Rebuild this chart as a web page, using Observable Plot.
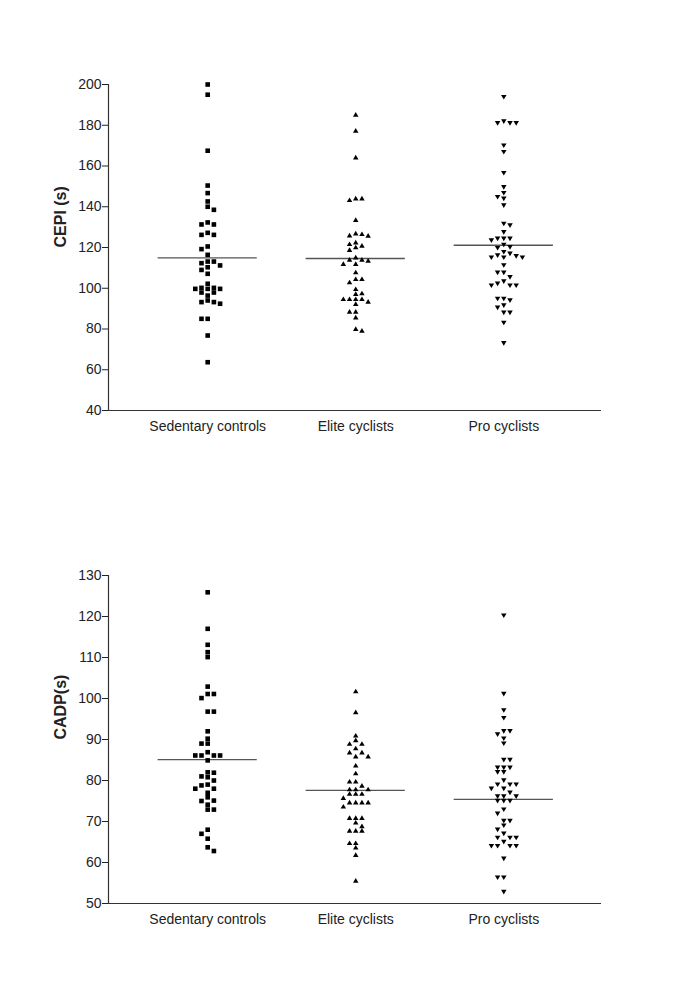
<!DOCTYPE html>
<html>
<head>
<meta charset="utf-8">
<script src="https://cdn.jsdelivr.net/npm/d3@7"></script>
<script src="https://cdn.jsdelivr.net/npm/@observablehq/plot@0.6"></script>
<style>
  html, body { margin: 0; padding: 0; background: #fff; }
  #chart svg { display: block; }
</style>
</head>
<body>
<div id="chart"></div>
<script>
// ---- data ----
const groups = ["Sedentary controls", "Elite cyclists", "Pro cyclists"];

const cepiSedentary = [200, 195, 167.5, 150.4, 146.7, 142.6, 140, 138.5, 132.3, 131.3, 131.3, 127.2, 126.2, 126.2,
  120.5, 119.2, 116.4, 113.1, 113.1, 112.3, 110.3, 111.2, 109, 107.1, 102.2, 99.7, 100.2, 97.9, 99.7, 99.7, 100.2,
  97.9, 96.4, 94, 93.2, 92.4, 93.2, 85, 85, 76.8, 63.7];
const cepiElite = [185.3, 177.4, 164.3, 144.2, 143.4, 144.2, 133.6, 127, 125.9, 126.7, 126, 122.6, 121.8, 121, 120.2,
  118.9, 115.2, 114.1, 114.1, 113.6, 112, 112, 107.9, 104.6, 104.6, 103, 99.7, 97.6, 97.3, 94.8, 94.8, 94.8, 94.8,
  93.5, 92.4, 88.6, 88.6, 85.8, 79.3, 80.1];
const cepiPro = [193.8, 181.8, 181, 181, 181, 170, 166.8, 156.5, 149.6, 146.7, 144.7, 143.9, 140.6, 131.6, 130.8,
  127.5, 124.3, 124.3, 123.4, 124.3, 121.3, 119.7, 120.1, 117.7, 116.9, 116.1, 115.7, 115, 115, 115, 111.2, 107.6,
  107.6, 105.4, 103.3, 102.2, 101.3, 101.3, 101.3, 94.8, 94.8, 94, 91.5, 90.4, 88, 88, 83, 73];
const cepiMeans = [114.9, 114.6, 121.1];
const cepiTicks = [40, 60, 80, 100, 120, 140, 160, 180, 200];

const cadpSedentary = [125.9, 117, 113.1, 111.3, 110.1, 102.9, 101.1, 101.1, 100.1, 96.8, 96.8, 92, 90.2, 89, 89,
  86.9, 86.1, 86.1, 86.1, 86.1, 84.9, 82, 81, 80, 80.8, 81.9, 79, 78.8, 78, 78, 77, 75.9, 75, 75.1, 74.1, 72.9, 72.9,
  67, 68, 65.8, 62.8, 63.7];
const cadpElite = [101.8, 96.7, 91, 89.9, 89, 89, 87.9, 86.9, 86.9, 85.9, 85.9, 83.7, 81.8, 79.8, 79.8, 78.8, 77.9,
  77.9, 77.9, 76.8, 76.8, 76.8, 75.8, 74.7, 74.7, 74.7, 74.7, 73.7, 70.9, 70.9, 70.9, 69.8, 68.9, 67.8, 67.8, 67.8,
  64.8, 64.8, 63.7, 61.9, 55.6];
const cadpPro = [120.2, 101.1, 97.1, 95.2, 92, 92, 91.2, 90.2, 89, 85, 85, 83.1, 83.1, 83.1, 82, 82, 80, 79, 79, 79,
  78, 78, 77, 76.1, 76.1, 76.1, 75, 75, 75, 72.9, 71.9, 70.1, 70.1, 69, 68, 67, 66, 66, 66, 65, 64, 64, 64, 64, 60.9,
  56.3, 56.3, 52.8];
const cadpMeans = [85.1, 77.6, 75.4];
const cadpTicks = [50, 60, 70, 80, 90, 100, 110, 120, 130];

// ---- symbols ----
const triUp = {
  draw(ctx, size) {
    const s = Math.sqrt(size);
    ctx.moveTo(0, -s * 0.55); ctx.lineTo(s * 0.62, s * 0.5); ctx.lineTo(-s * 0.62, s * 0.5); ctx.closePath();
  }
};
const triDown = {
  draw(ctx, size) {
    const s = Math.sqrt(size);
    ctx.moveTo(0, s * 0.55); ctx.lineTo(s * 0.62, -s * 0.5); ctx.lineTo(-s * 0.62, -s * 0.5); ctx.closePath();
  }
};
const symbols = ["square", triUp, triDown];

// ---- layout constants ----
const W = 685, ML = 108, MR = 84, MB = 30;
const XDOM = [-0.67, 2.66];
const STEP = (W - ML - MR) / (XDOM[1] - XDOM[0]); // px per group unit
const COLPX = 6.2;   // horizontal spacing of swarm columns, px
const DMIN = 4.5;    // min vertical spacing in a column, px

// simple column swarm computed from the values
function swarm(values, ppu) {
  const order = values.map((v, i) => ({v, i})).sort((a, b) => b.v - a.v);
  const placed = [];
  const count = new Map();
  const free = (k, v) => !placed.some(q => q.col === k && Math.abs(q.v - v) * ppu < DMIN);
  for (const p of order) {
    let col = null;
    for (let k = 0; col === null && k < 20; k++) {
      if (k === 0) { if (free(0, p.v)) col = 0; continue; }
      const fp = free(k, p.v), fm = free(-k, p.v);
      if (fp && fm) {
        let pos = 0, neg = 0;
        for (const q of placed) { if (q.col > 0) pos++; else if (q.col < 0) neg++; }
        col = pos <= neg ? k : -k;
      } else if (fp) col = k;
      else if (fm) col = -k;
    }
    placed.push({v: p.v, col});
  }
  return placed;
}

function chart({series, means, ticks, ydomain, label, marginTop, height}) {
  const ppu = (height - marginTop - MB) / (ydomain[1] - ydomain[0]);
  const pts = [];
  series.forEach((vals, g) => {
    for (const p of swarm(vals, ppu)) pts.push({g, x: g + p.col * COLPX / STEP, y: p.v});
  });
  const meanData = means.map((m, g) => ({g, m}));
  return Plot.plot({
    width: W, height, marginTop, marginBottom: MB, marginLeft: ML, marginRight: MR,
    style: {fontFamily: "'Liberation Sans', Arial, sans-serif", fontSize: "14px", color: "#222", background: "#fff"},
    x: {domain: XDOM, ticks: [0, 1, 2], tickFormat: i => groups[i], tickSize: 0, tickPadding: 11, label: null},
    y: {domain: ydomain, ticks, tickSize: 6, tickPadding: 1, label: null},
    marks: [
      Plot.ruleX([XDOM[0]], {stroke: "#333", strokeWidth: 1.2}),
      Plot.ruleY([ydomain[0]], {stroke: "#333", strokeWidth: 1.2}),
      Plot.ruleY(meanData, {y: "m", x1: d => d.g - 0.335, x2: d => d.g + 0.335, stroke: "#555", strokeWidth: 1.3}),
      ...[0, 1, 2].map(g => Plot.dot(pts.filter(d => d.g === g), {
        x: "x", y: "y", symbol: symbols[g], r: g === 0 ? 2.6 : 2.5, fill: "#000", stroke: "none"
      })),
      Plot.text([label], {text: d => d, frameAnchor: "left", dx: -48, rotate: -90,
        fontWeight: "bold", fontSize: 16, fill: "#222"})
    ]
  });
}

const root = document.getElementById("chart");
root.appendChild(chart({
  series: [cepiSedentary, cepiElite, cepiPro], means: cepiMeans, ticks: cepiTicks,
  ydomain: [40, 200], label: "CEPI (s)", marginTop: 84, height: 440
}));
root.appendChild(chart({
  series: [cadpSedentary, cadpElite, cadpPro], means: cadpMeans, ticks: cadpTicks,
  ydomain: [50, 130], label: "CADP(s)", marginTop: 135, height: 493
}));
</script>
</body>
</html>
